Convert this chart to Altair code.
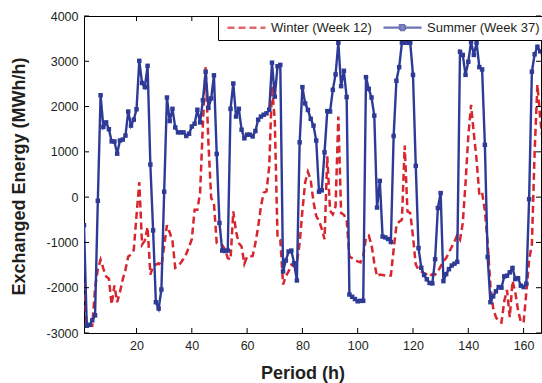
import altair as alt
import pandas as pd

hours = list(range(1, 168))

winter = [
    -1900, -2850, -2840, -2840, -2000, -1600, -1380, -1580, -1750, -1800,
    -2370, -1950, -2320, -2100, -1820, -1600, -1310, -1270, -1170, -400,
    330, -1050, -960, -660, -1710, -1520, -1490, -1460, -1520, -1080,
    -620, -780, -970, -1560, -1520, -1450, -1360, -1250, -1100, -930,
    -280, -280, 100, 1600, 2870, 1200, -20, -130, -1015, -1050,
    -1060, -1150, -1345, -1380, -315, -760, -1015, -1090, -1470, -1310,
    -1310, -1300, -1015, -650, -205, 100, 125, 680, 2450, 1700,
    -900, -940, -1930, -1750, -1640, -1490, -1530, -1455, -1015, -300,
    330, 560, 380, -100, -420, -520, -700, -930, 900, -300,
    -380, -200, 1780, -350, -390, -500, -1310, -1345, -1380, -1420,
    -1440, -1300, -900, -850, -1050, -1455, -1750, -1710, -1720, -1730,
    -1735, -1730, -1160, -630, -540, -500, 1140, -315, -350, -870,
    -1490, -1600, -1640, -1680, -1710, -1750, -1700, -1710, -1640, -1530,
    -1420, -1345, -1220, -1100, -980, -840, -940, -575, 310, 1340,
    2040, 1410, 825, 50, 100, -300, -1000, -1950, -2450, -2650,
    -2750, -2770, -2300, -2050, -2650, -1850, -2100, -2500, -2750, -2770,
    -2100, -1380, -1050, 1000, 2480, 1750, 1200,
]

summer = [
    -620, -2840, -2820, -2720, -2610, -80, 2250, 1550, 1650, 1500,
    1230, 1230, 960, 1250, 1270, 1360, 1890, 1580, 1710, 1940,
    3010, 2520, 2430, 2900, 720, -735, -2320, -2460, -2040, 120,
    2200, 1680, 1950, 1540, 1430, 1430, 1430, 1350, 1400, 1560,
    1620, 1930, 1650, 2140, 2770, 1970, 2180, 2690, 955, -570,
    -1180, -1190, -1180, 1950, 2510, 1780, 1950, 1490, 1300, 1380,
    1380, 1340, 1460, 1710, 1780, 1820, 1850, 1930, 2970, 2220,
    2890, 2920, -1640, -1400, -1200, -1180, -1460, -1840, 1210, 2430,
    2070, 1925, 1730, 1580, 1250, 120, 150, 990, 1900, 1890,
    2370, 2710, 3410, 2450, 2790, 2210, -2150, -2200, -2250, -2300,
    -2290, -2290, 2650, 2390, 2200, 1800, -230, 360, -870, -890,
    -925, -990, 1350, 2570, 2870, 3410, 3410, 3410, 3410, 2700,
    690, -1125, -1560, -1720, -1815, -1895, -1905, -1370, -240, 90,
    -1855, -1700, -1590, -1510, -1470, -1430, 3210, 3140, 2700, 2990,
    3430, 3140, 3410, 2870, 2820, 1155, -1320, -2320, -2190, -2080,
    -1985, -2000, -1750, -1735, -1660, -1565, -1810, -1790, -1955, -1985,
    -1910, -45, 2770, 3155, 3320, 3220, 3180,
]

series_names = ["Winter (Week 12)", "Summer (Week 37)"]
x_ticks = [20, 40, 60, 80, 100, 120, 140, 160]
y_ticks = [-3000, -2000, -1000, 0, 1000, 2000, 3000, 4000]

assert len(winter) == len(hours) and len(summer) == len(hours)

RED = "#d7262e"
BLUE = "#2e3b96"
W, H = 457, 317
FONT = "Liberation Sans"

winter_df = pd.DataFrame({"t": hours, "v": winter, "series": series_names[0]})
summer_df = pd.DataFrame({"t": hours, "v": summer, "series": series_names[1]})
long_df = pd.concat([winter_df, summer_df], ignore_index=True)
xt_df = pd.DataFrame({"t": x_ticks})
yt_df = pd.DataFrame({"v": y_ticks})

xs = alt.Scale(domain=[1, 166.3], nice=False, zero=False)
ys = alt.Scale(domain=[-3000, 4000], nice=False, zero=False)

x_axis = alt.Axis(values=x_ticks, title="Period (h)", grid=False, domain=False,
                  ticks=False, tickSize=0, labelPadding=6, labelFontSize=12.5,
                  labelFont=FONT, labelColor="#231f20",
                  titleFont=FONT, titleFontSize=18, titleFontWeight="bold",
                  titleColor="#231f20", titleX=W / 2 - 10, titleY=45,
                  titleBaseline="alphabetic", titleAlign="center")
y_axis = alt.Axis(values=y_ticks, title="Exchanged Energy (MWh/h)", grid=False,
                  domain=False, ticks=False, tickSize=0, labelPadding=6,
                  labelFontSize=12.5, labelFont=FONT, labelColor="#231f20",
                  labelExpr="'' + datum.value",
                  titleFont=FONT, titleFontSize=18, titleFontWeight="bold",
                  titleColor="#231f20", titleX=-60, titleY=160, titleAngle=270,
                  titleBaseline="alphabetic", titleAlign="center")

x_enc = alt.X("t:Q", scale=xs, axis=x_axis)
y_enc = alt.Y("v:Q", scale=ys, axis=y_axis)

winter_line = alt.Chart(winter_df).mark_line(
    color=RED, strokeWidth=2.5, strokeDash=[7, 4], clip=True
).encode(x=x_enc, y=y_enc)

summer_line = alt.Chart(summer_df).mark_line(
    color=BLUE, strokeWidth=2.4, clip=True
).encode(x=x_enc, y=y_enc)

summer_pts = alt.Chart(summer_df).mark_point(
    shape="square", filled=True, color=BLUE, size=20, opacity=1, clip=True
).encode(x=x_enc, y=y_enc)

legend = alt.Legend(orient="none", legendX=134, legendY=0, direction="horizontal",
                    title=None, strokeColor="black", fillColor="white",
                    padding=5, cornerRadius=0, symbolSize=100,
                    symbolStrokeWidth=2.4, symbolOffset=17, labelOffset=18,
                    columnPadding=6, labelFont=FONT, labelFontSize=13,
                    labelColor="#231f20", labelLimit=300)

path_w = "M-3.8,0H3.8"
path_s = "M-3.8,0H3.8M-0.5,-0.5H0.5V0.5H-0.5Z"

legend_layer = alt.Chart(long_df).transform_filter("false").mark_point(
    strokeWidth=2.4
).encode(
    x=x_enc, y=y_enc,
    color=alt.Color("series:N", scale=alt.Scale(domain=series_names, range=[RED, BLUE]), legend=legend),
    shape=alt.Shape("series:N", scale=alt.Scale(domain=series_names, range=[path_w, path_s]), legend=legend),
    strokeDash=alt.StrokeDash("series:N", scale=alt.Scale(domain=series_names, range=[[7, 4], [1, 0]]), legend=legend),
)

tick_bottom = alt.Chart(xt_df).mark_rule(color="black", strokeWidth=1).encode(
    x=x_enc, y=alt.value(H), y2=alt.value(H - 5))
tick_top = alt.Chart(xt_df).mark_rule(color="black", strokeWidth=1).encode(
    x=x_enc, y=alt.value(0), y2=alt.value(5))
tick_left = alt.Chart(yt_df).mark_rule(color="black", strokeWidth=1).encode(
    y=y_enc, x=alt.value(0), x2=alt.value(5))
tick_right = alt.Chart(yt_df).mark_rule(color="black", strokeWidth=1).encode(
    y=y_enc, x=alt.value(W), x2=alt.value(W - 5))

chart = alt.layer(
    winter_line, summer_line, summer_pts, legend_layer,
    tick_bottom, tick_top, tick_left, tick_right,
).properties(
    width=W, height=H,
    autosize=alt.AutoSizeParams(type="none"),
    padding={"left": 84, "top": 16, "right": 1, "bottom": 50},
    background="white",
).configure_view(
    stroke="black", strokeWidth=1
)

chart.save("out.html", embed_options={"renderer": "svg", "actions": False})
